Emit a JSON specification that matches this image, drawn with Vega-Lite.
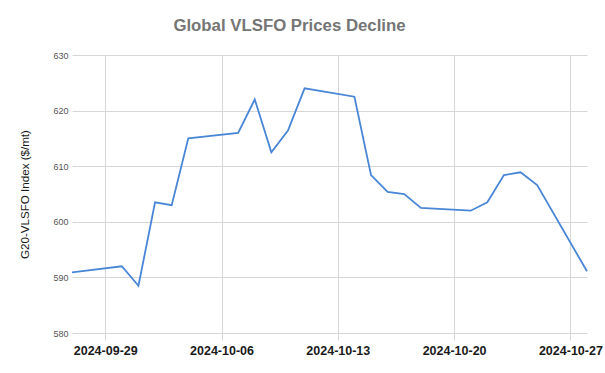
{
  "$schema": "https://vega.github.io/schema/vega-lite/v6.json",
  "width": 515,
  "height": 278,
  "autosize": {"type": "none"},
  "padding": {"left": 72, "top": 55, "right": 18, "bottom": 40},
  "background": "white",
  "title": {
    "text": "Global VLSFO Prices Decline",
    "font": "Liberation Sans",
    "fontSize": 16.8,
    "fontWeight": "bold",
    "color": "#757575",
    "anchor": "middle",
    "frame": "group",
    "dx": -40,
    "baseline": "alphabetic",
    "offset": 3
  },
  "config": {
    "view": {"stroke": null},
    "font": "Liberation Sans"
  },
  "data": {
    "values": [
      {"date": "2024-09-27", "price": 590.9},
      {"date": "2024-09-30", "price": 592.0},
      {"date": "2024-10-01", "price": 588.5},
      {"date": "2024-10-02", "price": 603.5},
      {"date": "2024-10-03", "price": 603.0},
      {"date": "2024-10-04", "price": 615.0},
      {"date": "2024-10-07", "price": 616.0},
      {"date": "2024-10-08", "price": 622.0},
      {"date": "2024-10-09", "price": 612.5},
      {"date": "2024-10-10", "price": 616.4},
      {"date": "2024-10-11", "price": 624.0},
      {"date": "2024-10-14", "price": 622.5},
      {"date": "2024-10-15", "price": 608.4},
      {"date": "2024-10-16", "price": 605.4},
      {"date": "2024-10-17", "price": 605.0},
      {"date": "2024-10-18", "price": 602.5},
      {"date": "2024-10-21", "price": 602.0},
      {"date": "2024-10-22", "price": 603.5},
      {"date": "2024-10-23", "price": 608.4},
      {"date": "2024-10-24", "price": 608.9},
      {"date": "2024-10-25", "price": 606.6},
      {"date": "2024-10-28", "price": 591.1}
    ]
  },
  "mark": {"type": "line", "color": "#4a86d6", "strokeWidth": 1.8},
  "encoding": {
    "x": {
      "field": "date",
      "type": "temporal",
      "scale": {
        "type": "utc",
        "nice": false,
        "domain": [
          {"year": 2024, "month": 9, "date": 27, "utc": true},
          {"year": 2024, "month": 10, "date": 28, "utc": true}
        ]
      },
      "axis": {
        "title": null,
        "values": [
          {"year": 2024, "month": 9, "date": 29, "utc": true},
          {"year": 2024, "month": 10, "date": 6, "utc": true},
          {"year": 2024, "month": 10, "date": 13, "utc": true},
          {"year": 2024, "month": 10, "date": 20, "utc": true},
          {"year": 2024, "month": 10, "date": 27, "utc": true}
        ],
        "format": "%Y-%m-%d",
        "labelFont": "Liberation Sans",
        "labelFontSize": 12.5,
        "labelFontWeight": "bold",
        "labelColor": "#1a1a1a",
        "labelPadding": 4,
        "labelFlush": false,
        "labelOverlap": false,
        "domain": false,
        "grid": true,
        "gridColor": "#d6d6d6",
        "gridWidth": 1,
        "ticks": true,
        "tickSize": 7,
        "tickColor": "#d6d6d6"
      }
    },
    "y": {
      "field": "price",
      "type": "quantitative",
      "scale": {"domain": [580, 630], "nice": false, "zero": false},
      "axis": {
        "title": "G20-VLSFO Index ($/mt)",
        "titleFont": "Liberation Sans",
        "titleFontSize": 11.6,
        "titleFontWeight": "normal",
        "titleColor": "#1a1a1a",
        "titlePadding": 22,
        "values": [580, 590, 600, 610, 620, 630],
        "labelFont": "Liberation Sans",
        "labelFontSize": 9,
        "labelColor": "#555555",
        "labelPadding": 4,
        "ticks": false,
        "domain": false,
        "grid": true,
        "gridColor": "#d6d6d6",
        "gridWidth": 1
      }
    }
  }
}
